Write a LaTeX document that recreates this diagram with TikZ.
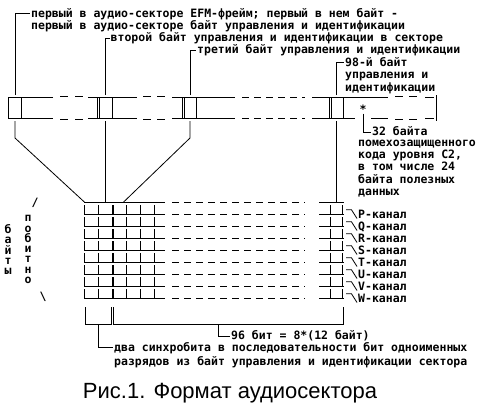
\documentclass[tikz,border=0pt]{standalone}
\usepackage{fontspec}
\setmainfont{Liberation Sans}
\newfontfamily\pixfont{DejaVu Sans Mono Bold}
\tikzset{
  dbl/.style={double,double distance=1.6pt,line width=0.7pt},
  ln/.style={line width=0.8pt},
  lbl/.style={font=\pixfont\fontsize{11.5}{12.4}\selectfont,inner sep=1pt,anchor=west,text height=7.5pt,text depth=0pt},
  mlbl/.style={font=\pixfont\fontsize{11.5}{12.4}\selectfont,inner sep=1pt,anchor=north west,align=left},
  vert/.style={font=\pixfont\fontsize{11.5}{10.25}\selectfont,inner sep=0pt,align=center}
}
\begin{document}
\begin{tikzpicture}[x=1pt,y=-1pt]
\useasboundingbox (0,0) rectangle (478,416);
% strip of the sector
\draw[dbl] (53,96.2) -- (7,96.2) -- (7,119.8) -- (53,119.8);
\draw[ln,dash pattern=on 8pt off 7pt] (60,96.2) -- (84,96.2) (60,119.8) -- (84,119.8);
\draw[dbl] (88,96.2) -- (137,96.2) (88,119.8) -- (137,119.8);
\draw[ln,dash pattern=on 8pt off 6pt] (143,96.2) -- (166,96.2) (143,119.8) -- (166,119.8);
\draw[dbl] (172,96.2) -- (235,96.2) (172,119.8) -- (235,119.8);
\draw[dbl,dash pattern=on 7pt off 5pt] (242,96.2) -- (305,96.2) (242,119.8) -- (305,119.8);
\draw[dbl] (312,96.2) -- (388,96.2) (312,119.8) -- (355,119.8) (371,119.8) -- (388,119.8);
\draw[ln,dash pattern=on 8pt off 6pt] (395,96.2) -- (418,96.2) (395,119.8) -- (418,119.8);
\draw[dbl] (425,96.2) -- (435,96.2) -- (435,119.8) -- (425,119.8);
\foreach \x in {21,97.3,99.3,112,182.2,184.2,196,329.8,331.8,343}
  \draw[ln] (\x,97.6) -- (\x,118.4);
\coordinate (t1) at (15,95);    \coordinate (b1) at (15,121);
\coordinate (t2) at (105.5,95); \coordinate (b2) at (105.5,121);
\coordinate (t3) at (190,95);   \coordinate (b3) at (190,121);
\coordinate (t4) at (336.5,95); \coordinate (b4) at (336.5,121);
% labels above
\node[mlbl] (L1) at (30,7) {первый в аудио-секторе EFM-фрейм; первый в нем байт -\\первый в аудио-секторе байт управления и идентификации};
\node[lbl] (L2) at (109.5,38) {второй байт управления и идентификации в секторе};
\node[lbl] (L3) at (196,50) {третий байт управления и идентификации};
\node[mlbl] (L98) at (344,56) {98-й байт\\управления и\\идентификации};
\draw[ln] (t1) |- ([yshift=-6pt]L1.north west);
\draw[ln] (t2) |- (L2.west);
\draw[ln] (t3) |- (L3.west);
\draw[ln] (t4) |- ([yshift=-6pt]L98.north west);
% C2 bytes
\node[font=\pixfont\fontsize{11.5}{12.4}\selectfont,inner sep=0pt,anchor=south] (star) at (363,113.5) {*};
\node[lbl] (n32) at (371,132) {32 байта};
\node[mlbl] (nC2) at (357,138.5) {помехозащищенного\\кода уровня C2,\\в том числе 24\\байта полезных\\данных};
\draw[ln] (star.south) |- (n32.west);
% bit matrix
\coordinate (g1) at (85,202.6);
\coordinate (g2) at (105.5,202.6);
\coordinate (g3) at (123,202.6);
\coordinate (g4) at (336.5,202.6);
\draw[ln] (b1) -- (15,138) -- (g1);
\draw[ln] (b2) -- (g2);
\draw[ln] (b3) -- (190,138) -- (g3);
\draw[ln] (b4) -- (g4);
\foreach \x in {84.5,98,112,113.7,126.5,140.5,154,330,342.5}
  \draw[ln] (\x,203.8) -- (\x,299.8);
\foreach \y in {203.8,215.8,...,300} {
  \draw[dbl] (84,\y) -- (165,\y);
  \draw[dbl,dash pattern=on 7pt off 5pt] (172,\y) -- (305,\y);
  \draw[dbl] (319,\y) -- (343.5,\y);
}
\foreach \c [count=\i from 0] in {P,Q,R,S,T,U,V,W} {
  \node[lbl] (ch\c) at (357,{215+12*\i}) {\c-канал};
  \draw[ln] (346,{209.8+12*\i}) -- ++(5.5,0) -- ([yshift=-3.5pt]ch\c.west);
}
\node[vert] (byty) at (8,249.5) {б\\а\\й\\т\\ы};
\node[vert] (pobit) at (28,249.5) {п\\о\\б\\и\\т\\н\\о};
\node[vert] (sl1) at (35,203) {/};
\node[vert] (sl2) at (43,297) {\textbackslash};
% brackets below
\draw[ln] (85,307) -- (85,324) -- (111,324) -- (111,307);
\draw[ln] (113.5,307) -- (113.5,324) -- (343,324) -- (343,307);
\coordinate (m1) at (98,324);
\coordinate (m2) at (218,324);
\node[lbl] (n96) at (230,336) {96 бит = 8*(12 байт)};
\node[mlbl,font=\pixfont\fontsize{11.5}{14}\selectfont] (sync) at (113,341) {два синхробита в последовательности бит одноименных\\разрядов из байт управления и идентификации сектора};
\draw[ln] (m2) |- (n96.west);
\draw[ln] (m1) |- ([yshift=-6pt]sync.north west);
\node[font=\fontsize{22}{26}\selectfont] (cap) at (230,393) {Рис.1. Формат аудиосектора};
\end{tikzpicture}
\end{document}
